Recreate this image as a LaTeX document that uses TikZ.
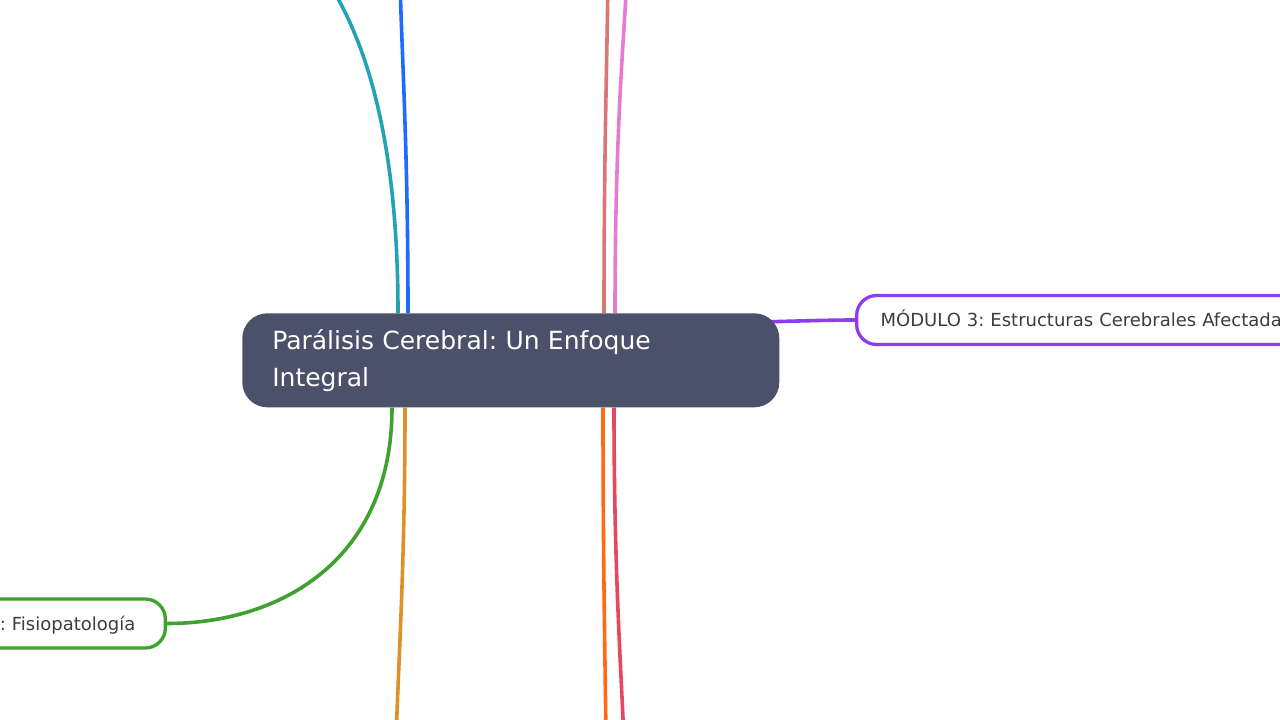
\documentclass[tikz,border=0pt]{standalone}
\usepackage{fontspec}
\setmainfont{DejaVu Sans}
\usepackage{xcolor}
\usetikzlibrary{backgrounds}
\frenchspacing

\definecolor{centrefill}{HTML}{4B506B}
\definecolor{modpurple}{HTML}{8B3DEF}
\definecolor{modgreen}{HTML}{3FA12F}
\definecolor{brteal}{HTML}{23A2B5}
\definecolor{brblue}{HTML}{1F6BFF}
\definecolor{brsalmon}{HTML}{DB7674}
\definecolor{brpink}{HTML}{E77BD3}
\definecolor{brgold}{HTML}{E09028}
\definecolor{brorange}{HTML}{FF6A13}
\definecolor{brcrimson}{HTML}{E5485F}
\definecolor{subtext}{HTML}{3D3D3D}

\begin{document}
\begin{tikzpicture}[x=1pt,y=-1pt,semithick]
		\tikzstyle{centre topic}=[fill=centrefill,rounded corners=25pt,text=white,font=\fontsize{25}{37}\selectfont,align=left,inner sep=0pt]
		\tikzstyle{sub topic}=[draw,line width=3.3pt,fill=white,rounded corners=20pt,text=subtext,font=\fontsize{18}{22}\selectfont,minimum height=49pt,inner ysep=0pt,text height=17pt,text depth=4pt]
		\tikzstyle{branch}=[line width=3.6pt]
		\useasboundingbox (0,0) rectangle (1280,720);
		\node[centre topic]    (centre)[anchor=north west,minimum width=537pt,minimum height=94pt,text width=477pt,inner xsep=30pt] at (242,313)               {Parálisis Cerebral: Un Enfoque\\Integral};
		\node[sub topic]    (mod3)[anchor=west,draw=modpurple,text width=430pt,align=left,inner xsep=24pt] at (855,320)               {MÓDULO 3: Estructuras Cerebrales Afectadas};
		\node[sub topic]    (fisio)[anchor=east,draw=modgreen,text width=280pt,align=right,inner xsep=30pt] at (167,623.5)               {: Fisiopatología};
		\coordinate (tealend) at (320,-30);
		\coordinate (blueend) at (400,-20);
		\coordinate (salmonend) at (608,-20);
		\coordinate (pinkend) at (627,-20);
		\coordinate (goldend) at (396,740);
		\coordinate (orangeend) at (606,740);
		\coordinate (crimsonend) at (624,740);
		\begin{pgfonlayer}{background}
		\fill[white] (0,0) rectangle (1280,720);
		\draw[branch,brteal] ([xshift=156]centre.north west) .. controls ++(0,-163) and (370,40) .. (tealend);
		\draw[branch,brblue] ([xshift=166]centre.north west) .. controls ++(0,-163) and (402,60) .. (blueend);
		\draw[branch,brsalmon] ([xshift=362]centre.north west) .. controls ++(0,-163) and (607,60) .. (salmonend);
		\draw[branch,brpink] ([xshift=373]centre.north west) .. controls ++(0,-163) and (622,60) .. (pinkend);
		\draw[branch,modgreen] ([xshift=150]centre.south west) .. controls ++(0,153) and (280,623.5) .. (fisio.east);
		\draw[branch,brgold] ([xshift=163]centre.south west) .. controls ++(0,153) and (399,650) .. (goldend);
		\draw[branch,brorange] ([xshift=361]centre.south west) .. controls ++(0,153) and (605,650) .. (orangeend);
		\draw[branch,brcrimson] ([xshift=372]centre.south west) .. controls ++(0,153) and (620,650) .. (crimsonend);
		\draw[branch,modpurple] ([xshift=-20,yshift=-9]centre.north east) .. controls (800,321) and (830,320) .. (mod3.west);
		\end{pgfonlayer}
	\end{tikzpicture}
\end{document}
